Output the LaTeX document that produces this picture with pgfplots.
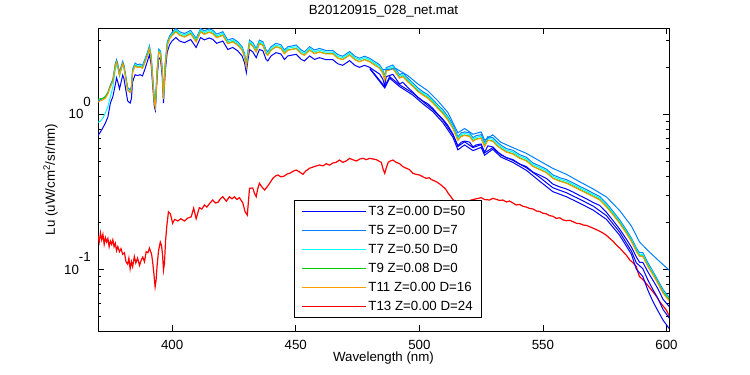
\documentclass[border=0pt]{standalone}
\usepackage{fontspec}
\setmainfont{Liberation Sans}
\usepackage{pgfplots}
\usepackage{pgfplotstable}
\pgfplotsset{compat=1.18}
\definecolor{cTa}{RGB}{0,0,255}
\definecolor{cTb}{RGB}{0,128,255}
\definecolor{cTc}{RGB}{0,255,255}
\definecolor{cTd}{RGB}{0,204,0}
\definecolor{cTe}{RGB}{255,153,0}
\definecolor{cTf}{RGB}{255,0,0}

\pgfplotstableread{
x T3 T5 T7 T9 T11
370 0.73 1.22 0.89 1.25 1.20
371 0.77 1.24 0.90 1.26 1.22
372 0.82 1.27 0.95 1.27 1.24
373 0.88 1.30 1.02 1.30 1.27
374 0.96 1.38 1.12 1.38 1.35
375 1.18 1.54 1.30 1.52 1.50
376 1.30 1.68 1.50 1.64 1.62
377 1.55 2.12 1.95 2.07 2.05
377.5 1.72 2.25 2.10 2.19 2.17
378 1.62 2.12 2.00 2.06 2.05
378.7 1.46 1.86 1.76 1.80 1.79
379.3 1.60 2.02 1.93 1.96 1.95
380 1.79 2.20 2.10 2.13 2.12
380.5 1.70 2.08 2.00 2.01 2.00
381 1.52 1.87 1.80 1.81 1.80
382 1.22 1.49 1.44 1.44 1.43
383 1.18 1.44 1.40 1.39 1.38
383.5 1.26 1.51 1.47 1.46 1.45
384 1.62 1.95 1.90 1.88 1.87
385 1.80 2.14 2.09 2.06 2.05
386 1.78 2.09 2.04 2.01 2.00
387 1.80 2.11 2.06 2.03 2.02
388 1.77 2.07 2.02 1.99 1.98
389 1.96 2.27 2.21 2.18 2.17
390 2.20 2.51 2.45 2.41 2.40
390.8 2.42 2.77 2.70 2.66 2.65
391.5 2.10 2.40 2.35 2.31 2.30
392.1 1.55 1.78 1.74 1.71 1.70
392.8 1.12 1.25 1.23 1.21 1.20
393.2 1.06 1.16 1.13 1.12 1.11
393.9 1.70 1.93 1.89 1.86 1.85
394.6 2.32 2.63 2.57 2.53 2.52
395.3 2.26 2.56 2.50 2.46 2.45
396 1.74 1.99 1.94 1.91 1.90
396.5 1.18 1.32 1.29 1.27 1.26
397.2 1.88 2.14 2.09 2.06 2.05
398 2.52 2.92 2.85 2.80 2.79
399 2.82 3.21 3.13 3.08 3.07
400 2.98 3.38 3.30 3.24 3.23
401.5 3.13 3.57 3.50 3.42 3.40
403 2.97 3.41 3.33 3.25 3.23
405 2.90 3.32 3.24 3.17 3.15
407.5 3.04 3.48 3.40 3.32 3.30
409.7 2.70 3.09 3.02 2.95 2.93
411.5 3.13 3.57 3.50 3.42 3.40
413 3.02 3.46 3.38 3.30 3.28
415 3.11 3.56 3.48 3.40 3.38
416.5 3.04 3.48 3.40 3.32 3.30
418 2.87 3.29 3.21 3.14 3.12
420.5 2.97 3.41 3.33 3.25 3.23
422.5 2.62 3.01 2.94 2.87 2.85
424.5 2.70 3.09 3.02 2.95 2.93
426.5 2.57 2.94 2.87 2.80 2.79
428.3 2.38 2.73 2.67 2.60 2.59
429.3 2.15 2.47 2.41 2.35 2.34
430 1.86 2.13 2.08 2.03 2.02
430.6 2.21 2.53 2.47 2.41 2.40
431.3 2.62 3.01 2.94 2.87 2.85
432.6 2.53 2.90 2.83 2.76 2.75
434 2.32 2.66 2.60 2.53 2.52
435.3 2.62 3.01 2.94 2.87 2.85
436.7 2.57 2.94 2.87 2.80 2.79
438 2.26 2.60 2.53 2.47 2.46
438.7 2.21 2.53 2.47 2.41 2.40
440 2.38 2.73 2.67 2.60 2.59
442 2.50 2.87 2.80 2.73 2.72
444 2.45 2.81 2.74 2.67 2.66
445.4 2.26 2.60 2.53 2.47 2.46
446.8 2.38 2.73 2.67 2.60 2.59
448.5 2.41 2.76 2.70 2.63 2.62
450.2 2.44 2.80 2.73 2.66 2.65
452.2 2.26 2.60 2.53 2.47 2.46
453.5 2.21 2.53 2.47 2.41 2.40
455.6 2.38 2.73 2.67 2.60 2.59
457.6 2.26 2.60 2.53 2.47 2.46
459.6 2.32 2.66 2.60 2.53 2.52
462.3 2.25 2.58 2.52 2.46 2.45
465 2.25 2.58 2.52 2.46 2.45
467 2.12 2.43 2.37 2.31 2.30
469 2.07 2.37 2.32 2.26 2.25
471.8 2.22 2.54 2.48 2.42 2.41
473.9 2.07 2.37 2.32 2.26 2.25
475.8 2.01 2.30 2.25 2.19 2.18
477.8 2.07 2.37 2.32 2.26 2.25
479.9 2.01 2.30 2.25 2.19 2.18
481.9 1.91 2.19 2.14 2.09 2.08
483.9 1.82 2.09 2.04 1.99 1.98
485.2 1.69 1.94 1.90 1.85 1.84
486 1.53 1.75 1.71 1.67 1.66
486.6 1.75 2.00 1.96 1.91 1.90
487.9 1.78 2.04 1.99 1.94 1.93
489.3 1.81 2.08 2.03 1.98 1.97
490.6 1.69 1.94 1.90 1.85 1.84
492 1.57 1.80 1.76 1.72 1.71
493.3 1.61 1.85 1.80 1.76 1.75
495.3 1.49 1.71 1.67 1.63 1.62
497.4 1.39 1.59 1.56 1.52 1.51
499.4 1.29 1.48 1.44 1.41 1.40
501.4 1.22 1.40 1.37 1.34 1.33
503.4 1.17 1.34 1.31 1.28 1.27
505.5 1.09 1.24 1.22 1.19 1.18
507.5 1.00 1.15 1.12 1.10 1.09
509.5 0.93 1.07 1.04 1.02 1.01
511.5 0.85 0.97 0.95 0.925 0.92
513.6 0.745 0.855 0.834 0.814 0.81
515.6 0.626 0.717 0.70 0.683 0.68
517 0.662 0.76 0.742 0.724 0.72
518.3 0.672 0.77 0.752 0.734 0.73
520.3 0.662 0.76 0.742 0.724 0.72
521.7 0.616 0.707 0.69 0.673 0.67
523 0.635 0.728 0.711 0.693 0.69
525 0.644 0.739 0.721 0.704 0.70
526.4 0.570 0.654 0.639 0.623 0.62
527.7 0.626 0.717 0.70 0.683 0.68
529.7 0.616 0.707 0.69 0.673 0.67
531.8 0.570 0.654 0.639 0.623 0.62
533 0.552 0.633 0.618 0.603 0.60
535.2 0.524 0.601 0.587 0.573 0.57
537.8 0.511 0.586 0.572 0.558 0.555
540.6 0.478 0.549 0.536 0.523 0.52
543.3 0.46 0.528 0.515 0.503 0.50
546 0.423 0.485 0.474 0.462 0.46
548.7 0.405 0.464 0.453 0.442 0.44
551.4 0.386 0.443 0.433 0.422 0.42
554 0.355 0.407 0.398 0.388 0.386
556.8 0.340 0.39 0.381 0.372 0.37
559.5 0.330 0.379 0.370 0.361 0.359
562.2 0.315 0.361 0.352 0.344 0.342
564.9 0.299 0.343 0.335 0.327 0.325
567.6 0.285 0.327 0.319 0.312 0.31
570.3 0.270 0.310 0.303 0.296 0.294
573 0.258 0.295 0.288 0.282 0.28
575.7 0.233 0.267 0.261 0.255 0.253
578.4 0.206 0.236 0.231 0.226 0.224
581 0.182 0.209 0.204 0.20 0.198
583.7 0.157 0.18 0.176 0.173 0.171
585.8 0.139 0.159 0.156 0.153 0.151
587.8 0.120 0.137 0.134 0.131 0.130
589.1 0.111 0.128 0.125 0.122 0.121
590.4 0.111 0.128 0.125 0.122 0.121
592.5 0.096 0.110 0.107 0.105 0.104
594.5 0.085 0.097 0.095 0.093 0.092
596.5 0.075 0.085 0.083 0.082 0.081
598.6 0.064 0.074 0.072 0.071 0.070
601.3 0.057 0.065 0.064 0.063 0.062
}\upper

\pgfplotstableread{
x T3b T3c
480 1.96 1.98
486 1.48 1.51
488 1.71 1.75
492 1.51 1.55
497.4 1.33 1.37
501.4 1.17 1.21
505.5 1.04 1.07
509.5 0.885 0.92
513.6 0.71 0.737
515.6 0.59 0.62
518.3 0.635 0.665
521.7 0.583 0.61
525 0.612 0.637
526.4 0.545 0.564
529.7 0.595 0.61
533 0.53 0.546
537.8 0.49 0.505
543.3 0.435 0.452
548.7 0.37 0.392
554 0.317 0.336
559.5 0.294 0.312
564.9 0.267 0.283
570.3 0.241 0.256
575.7 0.210 0.222
581 0.166 0.174
585.8 0.125 0.131
587.8 0.100 0.110
590.4 0.090 0.101
592.5 0.073 0.085
594.5 0.062 0.074
596.5 0.054 0.065
598.6 0.047 0.055
601.3 0.041 0.048
}\blueextra

\pgfplotstableread{
x T5b
485.2 1.94
490.6 1.97
495.3 1.78
499.4 1.57
503.4 1.42
507.5 1.22
511.5 1.03
515.6 0.76
518.3 0.81
521.7 0.744
525 0.77
526.4 0.682
529.7 0.737
533 0.66
537.8 0.61
543.3 0.56
548.7 0.50
554 0.448
559.5 0.41
564.9 0.367
570.3 0.33
575.7 0.293
581 0.240
585.8 0.19
589.1 0.150
592.5 0.132
596.5 0.115
601.3 0.098
}\lightextra

\pgfplotstableread{
x T13
370 0.165
370.5 0.150
371 0.172
371.5 0.155
372 0.168
372.5 0.145
373 0.160
373.5 0.150
374 0.158
374.5 0.140
375 0.152
375.5 0.145
376 0.155
376.5 0.140
377 0.147
377.5 0.132
378 0.140
378.7 0.130
379.3 0.136
380 0.125
380.7 0.128
381.3 0.112
382 0.108
382.5 0.118
383 0.101
383.5 0.112
384 0.104
384.7 0.121
385.3 0.110
386 0.118
386.8 0.106
387.5 0.115
388.1 0.120
388.8 0.112
389.5 0.130
390.2 0.128
390.8 0.137
391.3 0.130
391.7 0.125
392.2 0.108
392.6 0.094
393.1 0.077
393.5 0.085
393.9 0.105
394.5 0.132
395.2 0.150
395.7 0.142
396.1 0.125
396.5 0.099
396.9 0.110
397.3 0.150
397.8 0.188
398.5 0.235
399.3 0.228
400.2 0.198
401 0.210
402.3 0.205
403.5 0.212
405 0.205
406.3 0.214
407.7 0.218
408.7 0.248
409.7 0.212
411 0.250
412 0.245
413.1 0.260
414 0.252
415.1 0.265
416.4 0.280
417.5 0.268
418.5 0.270
419.5 0.285
420.5 0.294
421.9 0.275
423.2 0.294
424.2 0.285
425.2 0.294
426.2 0.282
427.2 0.290
428.6 0.268
429.5 0.235
430.4 0.224
431.3 0.333
432.6 0.335
433.3 0.31
434 0.294
434.6 0.33
435.3 0.359
436.3 0.34
437.4 0.325
438.7 0.345
440 0.37
440.7 0.386
441.8 0.40
442.8 0.406
444 0.395
445.4 0.40
446.5 0.412
447.5 0.416
449 0.43
450.2 0.437
451.5 0.425
452.9 0.41
454 0.43
455.6 0.449
457.5 0.46
459.6 0.471
461 0.465
462.3 0.48
463.7 0.47
465 0.485
466.3 0.49
467.7 0.507
469 0.49
470.4 0.50
471.8 0.52
473 0.51
474.5 0.50
476 0.515
477.2 0.52
478.5 0.51
479.9 0.52
481.2 0.515
482.6 0.51
483.5 0.50
484.6 0.49
485.4 0.44
486 0.416
486.6 0.45
487.4 0.49
488.3 0.50
489.3 0.507
490.6 0.49
492 0.48
493.3 0.46
494.7 0.449
496 0.44
497.4 0.416
498.7 0.41
500.1 0.406
501.5 0.395
502.8 0.386
504 0.39
504.8 0.38
506.9 0.367
508.3 0.355
509.6 0.341
510.6 0.33
511.7 0.309
512.7 0.295
513.7 0.28
515.5 0.265
517 0.255
519 0.27
521 0.28
523 0.285
525 0.29
526.4 0.282
528.4 0.28
529.7 0.287
531.1 0.283
532.5 0.278
533.8 0.28
535.2 0.272
536.5 0.276
537.8 0.268
539.2 0.26
540.6 0.262
541.9 0.255
543.3 0.252
544.6 0.247
546 0.245
547.3 0.238
548.7 0.236
550 0.23
551.4 0.228
552.7 0.222
554 0.22
555.4 0.213
556.8 0.215
558.2 0.208
559.5 0.206
560.9 0.207
562.2 0.203
563.6 0.198
565 0.197
566.3 0.193
567.6 0.192
569 0.188
570.4 0.184
571.7 0.18
573 0.176
574.4 0.171
575.8 0.165
577.1 0.158
578.5 0.151
579.8 0.143
581.1 0.137
582.4 0.130
583.8 0.123
585.1 0.115
586.5 0.110
587.8 0.104
588.5 0.095
589.1 0.0896
590.4 0.086
591.8 0.081
593.2 0.076
594.5 0.0717
595.9 0.067
597.2 0.062
598.6 0.058
599.9 0.0546
601.3 0.0494
}\red

\begin{document}
\begin{tikzpicture}[font=\fontsize{13.3bp}{16bp}\selectfont]
\useasboundingbox (-98bp,-44bp) rectangle (652bp,331bp);
\begin{axis}[
  at={(0,0)}, anchor=south west,
  scale only axis, width=571bp, height=303bp,
  clip mode=individual,
  ymode=log, xmin=370, xmax=601, ymin=0.04, ymax=3.605,
  xtick={400,450,500,550,600}, xticklabels={400,450,500,550,600},
  ytick={0.1,1}, yticklabels={},
  minor ytick={0.04,0.05,0.06,0.07,0.08,0.09,0.2,0.3,0.4,0.5,0.6,0.7,0.8,0.9,2,3},
  tick align=inside, tick pos=both,
  major tick length=6bp, minor tick length=3bp,
  axis line style={line width=0.8bp},
  every tick/.style={black, line width=0.8bp},
  xticklabel style={anchor=base, yshift=-18bp, inner sep=0pt},
  every axis title shift=0pt,
  title={B20120915\_028\_net.mat},
  title style={at={(0.5,1)}, anchor=base, yshift=13bp, inner sep=0pt},
  xlabel={Wavelength (nm)},
  xlabel style={at={(0.5,0)}, anchor=base, yshift=-30.5bp, inner sep=0pt},
  ylabel={Lu (uW/cm\textsuperscript{2}/sr/nm)},
  ylabel style={at={(0,0.5)}, anchor=base, yshift=43bp, inner sep=0pt},
  legend style={at={(0.343,0.432)}, anchor=north west, draw=black, line width=0.8bp,
    fill=white, inner xsep=7bp, inner ysep=3.5bp, row sep=4.2bp,
    font=\fontsize{13.3bp}{16bp}\selectfont},
  legend cell align=left,
  legend image code/.code={\draw[#1, line width=1.1bp] (0bp,0bp) -- (56bp,0bp); \path (0bp,0bp) -- (64bp,0bp);},
  every axis plot/.append style={line width=1bp},
]
\addplot[color=cTa] table[x=x,y=T3] {\upper};
\addlegendentry{T3 Z=0.00 D=50}
\addplot[color=cTb] table[x=x,y=T5] {\upper};
\addlegendentry{T5 Z=0.00 D=7}
\addplot[color=cTc] table[x=x,y=T7] {\upper};
\addlegendentry{T7 Z=0.50 D=0}
\addplot[color=cTd] table[x=x,y=T9] {\upper};
\addlegendentry{T9 Z=0.08 D=0}
\addplot[color=cTe] table[x=x,y=T11] {\upper};
\addlegendentry{T11 Z=0.00 D=16}
\addplot[color=cTf, line width=1.2bp] table[x=x,y=T13] {\red};
\addlegendentry{T13 Z=0.00 D=24}
\addplot[color=cTa, forget plot] table[x=x,y=T3b] {\blueextra};
\addplot[color=cTa, forget plot] table[x=x,y=T3c] {\blueextra};
\addplot[color=cTb, forget plot] table[x=x,y=T5b] {\lightextra};
\node[anchor=base east, inner sep=0pt, xshift=-7bp, yshift=-4bp] at (rel axis cs:0,0.7137) {10\raise12.5bp\hbox{0}};
\node[anchor=base east, inner sep=0pt, xshift=-7bp, yshift=-4.5bp] at (rel axis cs:0,0.2022) {10\raise12.5bp\hbox{-1}};
\end{axis}
\end{tikzpicture}
\end{document}
